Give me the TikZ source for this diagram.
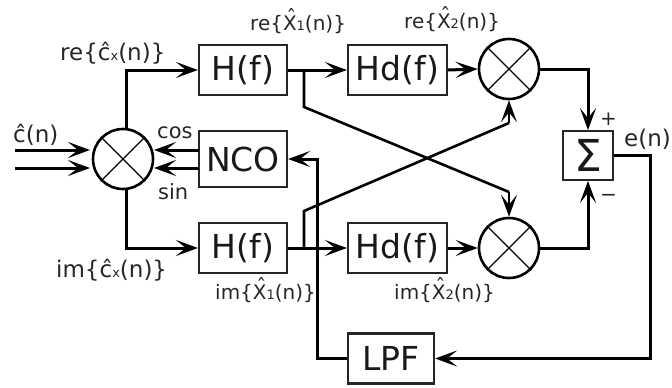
\documentclass[tikz,border=0pt]{standalone}
\usepackage{fontspec}
\setmainfont{DejaVu Sans}
\usetikzlibrary{arrows.meta,shapes.misc}
\newcommand{\fs}[1]{\fontsize{#1}{#1}\selectfont}
\newcommand{\smallc}[1]{{\fontsize{13}{13}\selectfont #1}}
\newcommand{\hatX}{\makebox[0pt][l]{\hspace{0.17em}\raisebox{0.27em}{ˆ}}X}
\tikzset{
  blockbox/.style={draw=black!85,line width=2.2pt,minimum height=50pt,inner sep=0pt,font=\fs{33},text=black!90},
  mix/.style={circle,draw=black,line width=2.6pt,minimum size=60pt,inner sep=0pt},
  wire/.style={draw=black,line width=3pt,line join=miter},
  arr/.style={wire,-{Stealth[length=22pt,width=16pt,inset=10pt]}},
  lab/.style={font=\fs{23},text=black!85,inner sep=0pt,anchor=base west},
  labs/.style={font=\fs{20},text=black!85,inner sep=0pt,anchor=base west},
  xline/.style={draw=black,line width=1.2pt}
}
\newcommand{\mixcross}[1]{
  \draw[xline] (#1.45)--(#1.225);
  \draw[xline] (#1.135)--(#1.315);
}
\begin{document}
\begin{tikzpicture}[x=1pt,y=-1pt]
\useasboundingbox (0,0) rectangle (672,388);
% blocks
\node[blockbox,minimum width=88pt] (h1) at (243,70) {H(f)};
\node[blockbox,minimum width=99pt] (d1) at (397.5,70) {Hd(f)};
\node[blockbox,minimum width=88pt] (h2) at (243,248) {H(f)};
\node[blockbox,minimum width=99pt] (d2) at (397.5,248) {Hd(f)};
\node[blockbox,minimum width=88pt,minimum height=56pt] (nco) at (243,159) {NCO};
\node[blockbox,minimum width=86pt] (lpf) at (391,358.5) {LPF};
\node[blockbox,minimum width=50pt,minimum height=49pt,line width=1.8pt,font=\fs{44}] (sum) at (588,155.5) {Σ};
\node[mix] (m0) at (123,159) {};
\node[mix] (m1) at (509,69) {};
\node[mix] (m2) at (509,248) {};
\mixcross{m0}\mixcross{m1}\mixcross{m2}
% free ends and bends
\coordinate (in1) at (15,150);
\coordinate (in2) at (15,168);
\coordinate (m0i1) at (90,150);
\coordinate (m0i2) at (90,168);
\coordinate (c1) at (154,150);
\coordinate (c2) at (154,168);
\coordinate (n1) at (199,150);
\coordinate (n2) at (199,168);
\coordinate (ta) at (126,128);
\coordinate (tb) at (126,70);
\coordinate (ba) at (126,190);
\coordinate (bb) at (126,248);
\coordinate (s1) at (304,70);
\coordinate (s1a) at (304,107);
\coordinate (s1b) at (509,192);
\coordinate (s2) at (304,248);
\coordinate (s2a) at (304,211);
\coordinate (s2b) at (509,123);
\coordinate (e1) at (650,155.5);
\coordinate (e2) at (650,358.5);
\coordinate (f1) at (317,358.5);
\coordinate (f2) at (317,159);
% connectors
\draw[arr] (in1)--(m0i1);
\draw[arr] (in2)--(m0i2);
\draw[arr] (n1)--(c1);
\draw[arr] (n2)--(c2);
\draw[arr] (ta)--(tb)--(h1.west);
\draw[arr] (ba)--(bb)--(h2.west);
\draw[arr] (h1.east)--(d1.west);
\draw[arr] (h2.east)--(d2.west);
\draw[arr] (d1.east)--(m1.west);
\draw[arr] (d2.east)--(m2.west);
\draw[wire,line width=2.6pt] (s1)--(s1a)--(s1b);
\draw[arr,line width=2.6pt] (s1b)--(m2.north);
\draw[wire,line width=2.6pt] (s2)--(s2a)--(s2b);
\draw[arr,line width=2.6pt] (s2b)--(m1.south);
\draw[arr] (m1.east)-|(sum.north);
\draw[arr] (m2.east)-|(sum.south);
\draw[arr] (sum.east)--(e1)--(e2)--(lpf.east);
\draw[arr] (lpf.west)--(f1)--(f2)--(nco.east);
% labels
\node[lab] (l1) at (60,60) {re\{ĉ\smallc{x}(n)\}};
\node[lab] (l2) at (56,277) {im\{ĉ\smallc{x}(n)\}};
\node[labs] (l3) at (250,30) {re\{\hatX\smallc{1}(n)\}};
\node[labs] (l4) at (404,28) {re\{\hatX\smallc{2}(n)\}};
\node[labs] (l5) at (215,299) {im\{\hatX\smallc{1}(n)\}};
\node[labs] (l6) at (394,299) {im\{\hatX\smallc{2}(n)\}};
\node[lab] (l7) at (13,142) {ĉ(n)};
\node[lab,font=\fs{21}] (l8) at (157,138) {cos};
\node[lab,font=\fs{21}] (l9) at (158,199) {sin};
\node[lab] (l10) at (624,146) {e(n)};
\node[lab,font=\fs{20}] (l11) at (600,125) {+};
\node[lab,font=\fs{20}] (l12) at (600,201) {−};
\end{tikzpicture}
\end{document}
